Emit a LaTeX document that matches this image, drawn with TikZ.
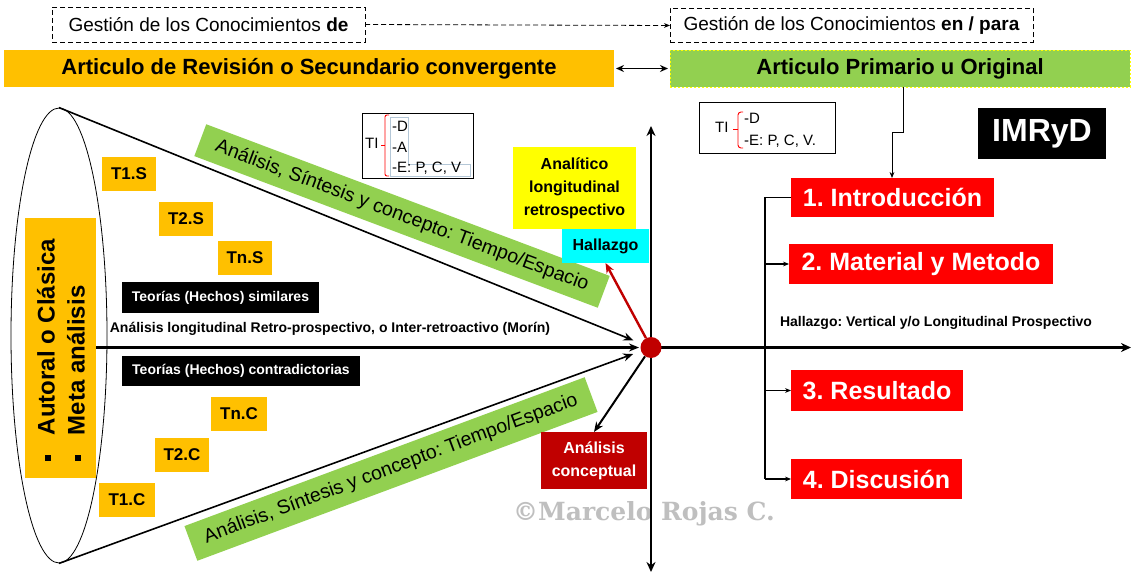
\documentclass[tikz,border=0pt]{standalone}
\usepackage{fontspec}
\setmainfont{Liberation Sans}
\newfontfamily\wmfont{DejaVu Serif}
\usetikzlibrary{arrows.meta,shapes.geometric,calc}
\definecolor{cOrange}{HTML}{FFC000}
\definecolor{cGreen}{HTML}{92D050}
\definecolor{cRed}{HTML}{FF0000}
\definecolor{cDark}{HTML}{C00000}
\definecolor{cYellow}{HTML}{FFFF00}
\definecolor{cCyan}{HTML}{00FFFF}
\definecolor{cGray}{HTML}{BFBFBF}
\definecolor{cFrame}{HTML}{B4C7D7}
\frenchspacing
\begin{document}
\begin{tikzpicture}[x=1pt,y=-1pt,
  fbox/.style={inner sep=0pt, outer sep=0pt, align=center},
  dashbox/.style={fbox, draw, line width=0.8pt, dash pattern=on 5pt off 3pt, minimum height=35pt, font=\fontsize{19}{23}\selectfont},
  bar/.style={fbox, minimum height=37pt, font=\fontsize{22}{26}\selectfont\bfseries},
  tbox/.style={fbox, fill=cOrange, minimum width=54pt, minimum height=34pt, font=\fontsize{17}{20}\selectfont\bfseries},
  blackbox/.style={fbox, fill=black, text=white, font=\fontsize{14}{17}\selectfont\bfseries},
  redbox/.style={fbox, fill=cRed, text=white, minimum height=40pt, font=\fontsize{25}{30}\selectfont\bfseries},
  banner/.style={fbox, fill=cGreen, font=\fontsize{19.5}{23}\selectfont},
  titext/.style={inner sep=0pt, anchor=west, font=\fontsize{15}{18}\selectfont},
  plain/.style={inner sep=0pt, font=\fontsize{14}{17}\selectfont\bfseries},
  tip/.style={-{Stealth[length=#1,width=0.8*#1]}},
]
\fill[white] (0,0) rectangle (1132,575);
\useasboundingbox (0,0) rectangle (1132,575);

% top row
\node[dashbox, minimum width=313pt] (gl) at (208.5,24.5) {Gestión de los Conocimientos \textbf{de}};
\node[dashbox, minimum width=363pt, minimum height=34pt] (gr) at (851.5,25.5) {Gestión de los Conocimientos \textbf{en / para}};
\draw[line width=0.8pt, dash pattern=on 5pt off 3pt, tip=6pt] (gl.east) -- (gr.west);

\node[bar, fill=cOrange, minimum width=610pt] (ob) at (309,68.5) {Articulo de Revisión o Secundario convergente};
\node[bar, fill=cGreen, minimum width=460pt, draw=cYellow, dash pattern=on 2pt off 2pt, line width=0.6pt] (gb) at (900,68.5) {Articulo Primario u Original};
\draw[line width=1.8pt, {Stealth[length=8pt,width=7pt]}-{Stealth[length=8pt,width=7pt]}, shorten <=2pt, shorten >=2pt] (ob.east) -- (gb.west);

% TI boxes
\node[fbox, draw, line width=0.8pt, minimum width=111pt, minimum height=65pt] (til) at (417.5,145.5) {};
\draw[cFrame, line width=0.5pt] (390,117) -- (408,117) -- (408,164) -- (470,164) -- (470,176) -- (390,176) -- cycle;
\node[titext] (tilT) at (365,143) {TI};
\draw[red, line width=0.9pt, rounded corners=2pt] (389,115) -- (385,115) -- (385,176) -- (389,176);
\draw[red, line width=0.9pt] (385,145) -- (381,145);
\node[titext] (tilD) at (392,126) {-D};
\node[titext] (tilA) at (392,147) {-A};
\node[titext] (tilE) at (392,168) {-E: P, C, V};

\node[fbox, draw, line width=0.8pt, minimum width=136pt, minimum height=51pt] (tir) at (767,127.5) {};
\node[titext] (tirT) at (715,127) {TI};
\draw[red, line width=0.9pt, rounded corners=3pt] (743,112) -- (738,112) -- (738,148) -- (743,148);
\draw[red, line width=0.9pt] (738,129) -- (733,129);
\node[titext] (tirD) at (744,118) {-D};
\node[titext] (tirE) at (744,141) {-E: P, C, V.};

\node[fbox, fill=black, text=white, minimum width=128pt, minimum height=51pt, font=\fontsize{32}{36}\selectfont\bfseries] (imr) at (1042,133.5) {IMRyD};

% cone
\node[draw, ellipse, line width=0.8pt, minimum width=96pt, minimum height=455pt, inner sep=0pt] (el) at (59,335.5) {};
\node[fbox, fill=cOrange, minimum width=71pt, minimum height=260pt] (au) at (60.5,347.5) {};
\node[rotate=90, align=left, inner sep=0pt, font=\fontsize{24}{30}\selectfont\bfseries] (aut) at (61,350) {\rule[4pt]{6pt}{6pt}\hspace{20pt}Autoral o Clásica\\\rule[4pt]{6pt}{6pt}\hspace{20pt}Meta análisis};

\coordinate (dotc) at (651,347.5);
\draw[line width=1.6pt, tip=10pt, shorten >=19pt] (el.north) -- (dotc);
\draw[line width=1.6pt, tip=10pt, shorten >=19pt] (el.south) -- (dotc);
\draw[line width=2.2pt, tip=10pt, shorten >=12pt] (au.east) -- (dotc);

\node[banner, rotate=-20.6, minimum width=431pt, minimum height=34pt] (gu) at (402,216) {Análisis, Síntesis y concepto: Tiempo/Espacio};
\node[banner, rotate=20.4, minimum width=427pt, minimum height=37pt] (gd) at (391,469) {Análisis, Síntesis y concepto: Tiempo/Espacio};

\node[tbox] (t1s) at (129,174) {T1.S};
\node[tbox] (t2s) at (186,218.5) {T2.S};
\node[tbox] (tns) at (245,257.5) {Tn.S};
\node[tbox, minimum width=56pt] (tnc) at (239,414) {Tn.C};
\node[tbox] (t2c) at (182,455) {T2.C};
\node[tbox, minimum width=56pt] (t1c) at (127,500) {T1.C};

\node[blackbox, minimum width=197pt, minimum height=31pt] (bs) at (220.5,297.5) {Teorías (Hechos) similares};
\node[blackbox, minimum width=238pt, minimum height=30pt] (bc) at (241,371) {Teorías (Hechos) contradictorias};
\node[plain] (lt) at (330,329) {Análisis longitudinal Retro-prospectivo, o Inter-retroactivo (Morín)};

% centre
\node[fbox, fill=cYellow, minimum width=123pt, minimum height=82pt, font=\fontsize{16}{23}\selectfont\bfseries] (ya) at (574.5,188) {Analítico\\longitudinal\\retrospectivo};
\node[fbox, fill=cCyan, minimum width=87pt, minimum height=34pt, font=\fontsize{16}{19}\selectfont\bfseries] (hz) at (605.5,246) {Hallazgo};
\node[fbox, fill=cDark, text=white, minimum width=106pt, minimum height=57pt, font=\fontsize{16}{23}\selectfont\bfseries] (ac) at (594,460.5) {Análisis\\conceptual};

\node[inner sep=0pt, text=cGray, font=\wmfont\bfseries\fontsize{25}{29}\selectfont] (wm) at (644,514) {©Marcelo Rojas C.};

\coordinate (ytop) at (651,126);
\coordinate (ybot) at (651,572);
\coordinate (xend) at (1131,347.5);
\draw[line width=2.6pt, {Stealth[length=10pt,width=9pt]}-{Stealth[length=10pt,width=9pt]}] (ytop) -- (ybot);
\draw[line width=2.6pt, -{Stealth[length=10pt,width=9pt]}] (dotc) -- (xend);

\node[circle, fill=cDark, minimum size=21pt, inner sep=0pt] (dot) at (dotc) {};
\draw[line width=2.4pt, cDark, tip=10pt] (dot) -- (hz.south);
\draw[line width=2pt, tip=10pt] (dot) -- (ac.north);

% IMRyD list
\node[redbox, minimum width=203pt, minimum height=39pt] (i1) at (892.5,197.5) {1. Introducción};
\node[redbox, minimum width=264pt] (i2) at (921,264) {2. Material y Metodo};
\node[redbox, minimum width=172pt, minimum height=41pt] (i3) at (877,390.5) {3. Resultado};
\node[redbox, minimum width=171pt] (i4) at (876.5,479) {4. Discusión};
\node[plain] (hv) at (936,323) {Hallazgo: Vertical y/o Longitudinal Prospectivo};

\coordinate (k1) at (903,132);
\coordinate (k2) at (892,132);
\draw[line width=0.9pt, tip=6pt] (gb.south -| k1) -- (k1) -- (k2) -- (k2 |- i1.north);

\coordinate (bx) at (765,0);
\draw[line width=1.1pt] (i1.west) -- (i1.west -| bx) -- (i4.west -| bx);
\draw[line width=1.1pt, tip=6pt] (i2.west -| bx) -- (i2.west);
\draw[line width=1.1pt, tip=6pt] (i3.west -| bx) -- (i3.west);
\draw[line width=1.1pt, tip=6pt] (i4.west -| bx) -- (i4.west);
\end{tikzpicture}
\end{document}
